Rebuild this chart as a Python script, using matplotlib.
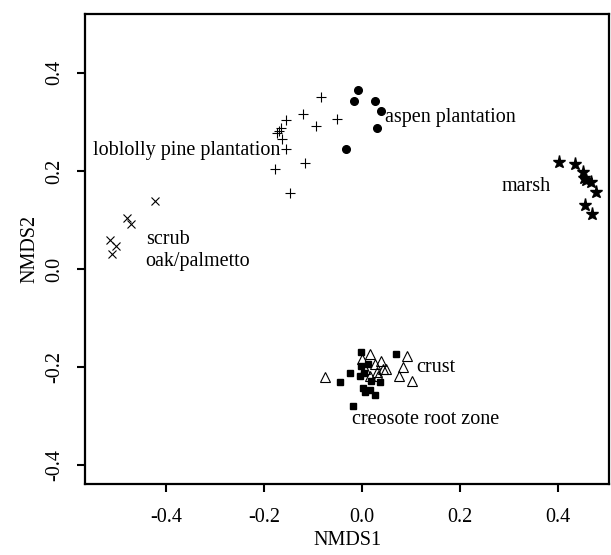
import matplotlib
matplotlib.use("Agg")
import matplotlib.pyplot as plt

plt.rcParams['font.family'] = ['Liberation Serif', 'DejaVu Serif']

# NMDS scores
aspen_x = [-0.008, -0.016, 0.026, 0.038, 0.030, -0.033]
aspen_y = [0.364, 0.343, 0.342, 0.322, 0.287, 0.245]

pine_x = [-0.084, -0.120, -0.155, -0.093, -0.052, -0.166, -0.173, -0.164,
          -0.155, -0.116, -0.178, -0.147, -0.170]
pine_y = [0.350, 0.315, 0.303, 0.291, 0.306, 0.288, 0.277, 0.265,
          0.244, 0.216, 0.204, 0.154, 0.282]

marsh_x = [0.402, 0.434, 0.450, 0.452, 0.456, 0.467, 0.478, 0.455, 0.468]
marsh_y = [0.219, 0.214, 0.197, 0.186, 0.181, 0.177, 0.158, 0.131, 0.112]

scrub_x = [-0.422, -0.480, -0.472, -0.513, -0.502, -0.509]
scrub_y = [0.139, 0.104, 0.092, 0.059, 0.047, 0.031]

creosote_x = [-0.003, 0.070, -0.025, -0.045, -0.003, 0.012, 0.004, -0.004,
              0.019, 0.036, 0.002, 0.006, 0.016, 0.027, -0.019]
creosote_y = [-0.169, -0.173, -0.211, -0.231, -0.197, -0.193, -0.212, -0.219,
              -0.229, -0.231, -0.243, -0.251, -0.247, -0.257, -0.279]

crust_x = [0.016, 0.001, 0.038, 0.026, 0.042, 0.031, 0.092, 0.083, 0.075,
           0.102, -0.076, 0.017, 0.007, 0.049, 0.033]
crust_y = [-0.173, -0.184, -0.188, -0.194, -0.204, -0.209, -0.177, -0.199,
           -0.218, -0.229, -0.220, -0.219, -0.204, -0.204, -0.217]

ticks = [-0.4, -0.2, 0.0, 0.2, 0.4]

fig = plt.figure(figsize=(6.11, 5.55), dpi=100)
ax = fig.add_axes([0.139, 0.128, 0.858, 0.847])

k = 'black'
ax.plot(aspen_x, aspen_y, 'o', color=k, ms=5.5, ls='none')
ax.plot(pine_x, pine_y, '+', color=k, ms=7.5, mew=0.8, ls='none')
ax.plot(marsh_x, marsh_y, '*', color=k, ms=9.5, ls='none')
ax.plot(scrub_x, scrub_y, 'x', color=k, ms=5.5, mew=0.8, ls='none')
ax.plot(creosote_x, creosote_y, 's', color=k, ms=5.0, ls='none')
ax.plot(crust_x, crust_y, '^', mfc='none', mec=k, ms=7, mew=0.8, ls='none')

fs = 14.5
ax.text(0.046, 0.308, 'aspen plantation', fontsize=fs, va='center')
ax.text(-0.549, 0.241, 'loblolly pine plantation', fontsize=fs, va='center')
ax.text(0.284, 0.168, 'marsh', fontsize=fs, va='center')
ax.text(-0.441, 0.061, 'scrub', fontsize=fs, va='center')
ax.text(-0.441, 0.015, 'oak/palmetto', fontsize=fs, va='center')
ax.text(0.111, -0.201, 'crust', fontsize=fs, va='center')
ax.text(-0.021, -0.306, 'creosote root zone', fontsize=fs, va='center')

ax.set_xlim(-0.565, 0.504)
ax.set_ylim(-0.438, 0.52)
ax.set_xticks(ticks)
ax.set_yticks(ticks)
ax.set_xticklabels(['%.1f' % t for t in ticks])
ax.set_yticklabels(['%.1f' % t for t in ticks], rotation=90, va='center')
ax.tick_params(direction='out', length=6, width=1.5, labelsize=fs)
ax.tick_params(axis='x', pad=11)
ax.tick_params(axis='y', pad=9)
for s in ax.spines.values():
    s.set_linewidth(1.6)

ax.set_xlabel('NMDS1', fontsize=fs, labelpad=3)
ax.set_ylabel('NMDS2', fontsize=fs, labelpad=4)

fig.savefig('out.png', dpi=100)
